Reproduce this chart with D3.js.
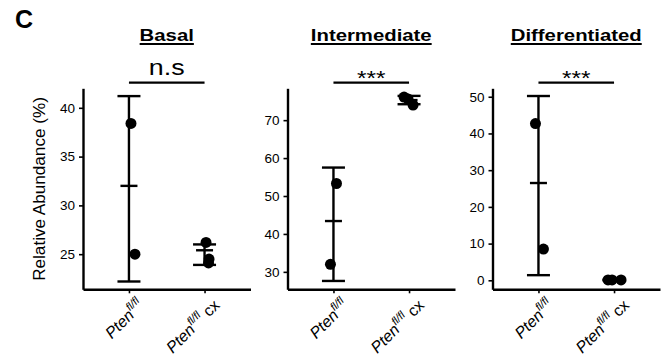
<!DOCTYPE html>
<html>
<head>
<meta charset="utf-8">
<script src="https://cdn.jsdelivr.net/npm/d3@7"></script>
<style>
  body { margin: 0; background: #fff; }
  svg text { font-family: "Liberation Sans", Arial, sans-serif; fill: #000; }
</style>
</head>
<body>
<script>
// values
const panelTitles = ["Basal", "Intermediate", "Differentiated"];
const groupNames = ["Pten fl/fl", "Pten fl/fl cx"];
const sigLabels = ["n.s", "***", "***"];

const basalPoints = [[38.4, 25.0], [26.2, 24.5, 24.1]];
const intermediatePoints = [[53.3, 32.0], [76.1, 75.6, 74.0]];
const differentiatedPoints = [[42.7, 8.5], [0.1, 0.1, 0.1]];

const basalMean = [32.0, 25.4];
const basalLow = [22.2, 23.9];
const basalHigh = [41.2, 26.0];
const intermediateMean = [43.4, 75.3];
const intermediateLow = [27.6, 74.2];
const intermediateHigh = [57.5, 76.4];
const differentiatedMean = [26.5, 0.1];
const differentiatedLow = [1.4, 0.0];
const differentiatedHigh = [50.2, 0.2];

const basalTicks = [25, 30, 35, 40];
const intermediateTicks = [30, 40, 50, 60, 70];
const differentiatedTicks = [0, 10, 20, 30, 40, 50];

const basalDomain = [21.4, 42.0];
const intermediateDomain = [25.4, 78.4];
const differentiatedDomain = [-2.45, 52.3];

const panels = [
  { title: panelTitles[0], sig: sigLabels[0], points: basalPoints, mean: basalMean, low: basalLow, high: basalHigh, ticks: basalTicks, domain: basalDomain },
  { title: panelTitles[1], sig: sigLabels[1], points: intermediatePoints, mean: intermediateMean, low: intermediateLow, high: intermediateHigh, ticks: intermediateTicks, domain: intermediateDomain },
  { title: panelTitles[2], sig: sigLabels[2], points: differentiatedPoints, mean: differentiatedMean, low: differentiatedLow, high: differentiatedHigh, ticks: differentiatedTicks, domain: differentiatedDomain }
];

// layout
const width = 669, height = 360;
const panelLeft = [83, 287.5, 492.5];
const panelWidth = 167.5;
const plotTop = 88.3, plotBottom = 289.3;
// horizontal spread of the dots, in px (Prism scatter)
const jitter = [
  [[2, 6], [1.5, 4.5, 4]],
  [[3, -3], [-5, -1, 4]],
  [[-3, 5], [-6, -2, 7]]
];

const svg = d3.select("body").append("svg")
  .attr("width", width)
  .attr("height", height);

// stretch text horizontally, the figure's labels are wider than plain Arial
const stretch = (sel, k) => {
  sel.each(function () {
    const w = this.getComputedTextLength();
    d3.select(this).attr("textLength", w * k).attr("lengthAdjust", "spacingAndGlyphs");
  });
};

svg.append("text")
  .attr("x", 15).attr("y", 28)
  .attr("font-size", "25px").attr("font-weight", "bold")
  .text("C");

const ylab = svg.append("text")
  .attr("transform", "translate(45,189) rotate(-90)")
  .attr("text-anchor", "middle")
  .attr("font-size", "16px")
  .text("Relative Abundance (%)");
stretch(ylab, 1.07);

panels.forEach((p, pi) => {
  const g = svg.append("g").attr("transform", `translate(${panelLeft[pi]},0)`);

  const x = d3.scalePoint().domain(groupNames).range([0, panelWidth]).padding(0.608);
  const y = d3.scaleLinear().domain(p.domain).range([plotBottom, plotTop]);

  // y axis
  const yAxis = g.append("g")
    .call(d3.axisLeft(y).tickValues(p.ticks).tickSize(4).tickPadding(4).tickSizeOuter(0));
  yAxis.select(".domain").attr("stroke-width", 2.4).attr("stroke", "#000");
  yAxis.selectAll(".tick line").attr("stroke-width", 1.6);
  yAxis.selectAll(".tick text").attr("font-size", "13.5px").attr("font-family", null).attr("fill", "#111");

  // x axis
  const xAxis = g.append("g")
    .attr("transform", `translate(0,${plotBottom})`)
    .call(d3.axisBottom(x).tickSize(4).tickSizeOuter(0).tickFormat(""));
  xAxis.select(".domain").attr("stroke-width", 2.4).attr("stroke", "#000");
  xAxis.selectAll(".tick line").attr("stroke-width", 1.6);

  // rotated group labels: Pten (italic) with superscript fl/fl
  groupNames.forEach((name, gi) => {
    const parts = name.split(" ");
    const t = g.append("text")
      .attr("transform", `translate(${x(name) + 16},${plotBottom + 17}) rotate(-45)`)
      .attr("text-anchor", "end")
      .attr("font-size", "16px");
    t.append("tspan").attr("font-style", "italic").text(parts[0]);
    t.append("tspan").attr("font-style", "italic").attr("font-size", "11px").attr("dy", -7).text(parts[1]);
    if (parts[2]) {
      t.append("tspan").attr("dy", 7).text(" " + parts[2]);
    }
  });

  // error bars: mean with whiskers
  groupNames.forEach((name, gi) => {
    const cx = x(name);
    const bar = g.append("g").attr("stroke", "#000").attr("stroke-width", 2.4);
    bar.append("line").attr("x1", cx).attr("x2", cx).attr("y1", y(p.low[gi])).attr("y2", y(p.high[gi]));
    bar.append("line").attr("x1", cx - 11.5).attr("x2", cx + 11.5).attr("y1", y(p.low[gi])).attr("y2", y(p.low[gi]));
    bar.append("line").attr("x1", cx - 11.5).attr("x2", cx + 11.5).attr("y1", y(p.high[gi])).attr("y2", y(p.high[gi]));
    bar.append("line").attr("x1", cx - 8.5).attr("x2", cx + 8.5).attr("y1", y(p.mean[gi])).attr("y2", y(p.mean[gi]));
  });

  // dots
  groupNames.forEach((name, gi) => {
    g.selectAll(null)
      .data(p.points[gi])
      .enter()
      .append("circle")
      .attr("cx", (d, i) => x(name) + jitter[pi][gi][i])
      .attr("cy", d => y(d))
      .attr("r", 5.5)
      .attr("fill", "#000");
  });

  // title with underline
  const mid = (x(groupNames[0]) + x(groupNames[1])) / 2;
  const title = g.append("text")
    .attr("x", mid).attr("y", 40.7)
    .attr("text-anchor", "middle")
    .attr("font-size", "16px").attr("font-weight", "bold")
    .text(p.title);
  stretch(title, 1.27);
  const tw = title.node().getComputedTextLength();
  g.append("line")
    .attr("x1", mid - tw / 2).attr("x2", mid + tw / 2)
    .attr("y1", 44).attr("y2", 44)
    .attr("stroke", "#000").attr("stroke-width", 1.8);

  // significance bracket
  g.append("line")
    .attr("x1", x(groupNames[0])).attr("x2", x(groupNames[1]))
    .attr("y1", 82.7).attr("y2", 82.7)
    .attr("stroke", "#000").attr("stroke-width", 2.2);
  const sig = g.append("text")
    .attr("x", mid).attr("y", p.sig === "n.s" ? 74.5 : 85)
    .attr("text-anchor", "middle")
    .attr("font-size", p.sig === "n.s" ? "22px" : "20px")
    .text(p.sig);
  stretch(sig, 1.22);
});
</script>
</body>
</html>
